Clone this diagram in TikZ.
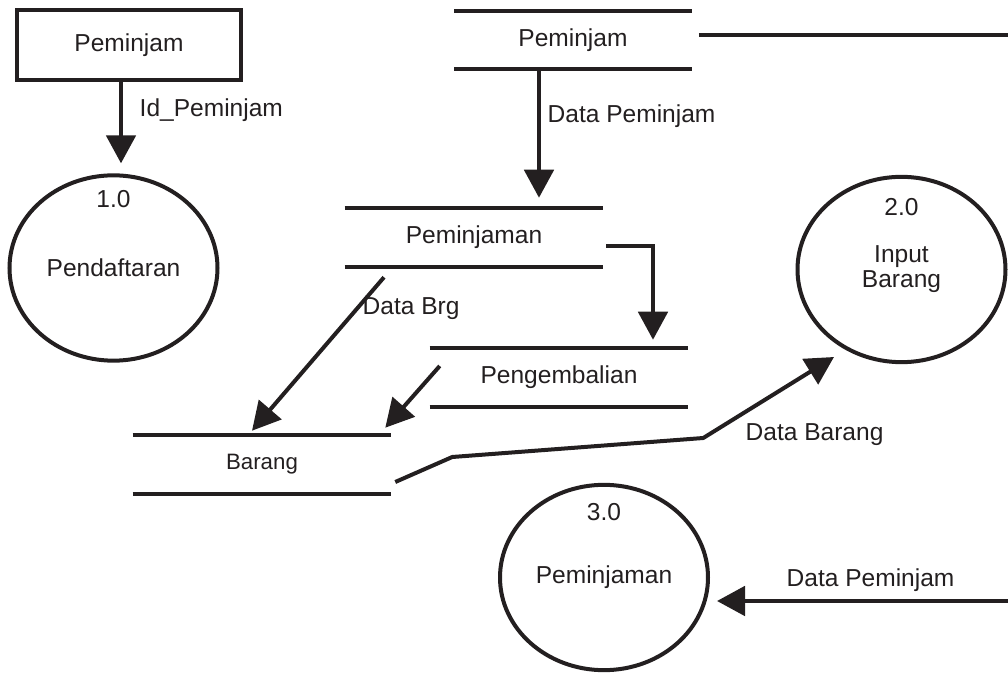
\documentclass[tikz,border=0pt]{standalone}
\usepackage{fontspec}
\setmainfont{Liberation Sans}
\usetikzlibrary{positioning,calc,shapes.geometric,arrows.meta}
\definecolor{dfdink}{RGB}{35,31,32}

\begin{document}
\begin{tikzpicture}[x=0.75pt, y=-0.75pt,
    every node/.style={text=dfdink, font=\fontsize{18.4}{18.75}\selectfont},
    entity/.style={draw=dfdink, line width=3pt, rectangle, minimum width=168pt, minimum height=52.5pt},
    proc/.style={draw=dfdink, line width=3pt, ellipse, minimum width=156pt, minimum height=139pt, inner sep=0pt, align=center},
    store/.style={minimum width=193.5pt, minimum height=44.25pt, inner sep=0pt},
    flow/.style={draw=dfdink, line width=3pt, -{Triangle[length=21pt, width=22pt]}},
    line/.style={draw=dfdink, line width=3pt}]
    \useasboundingbox (0,0) rectangle (1008,673);

    % External entity
    \node[entity] (pmj) at (129,45) {Peminjam};

    % Processes
    \node[proc] (p1) at (113.5,268) {Pendaftaran};
    \node[proc] (p2) at (901.5,269.5) {Input\\Barang};
    \node[proc] (p3) at (604,577.5) {Peminjaman};
    \node (n1) at ($(p1.center)+(0,-69)$) {1.0};
    \node (n2) at ($(p2.center)+(0,-62)$) {2.0};
    \node (n3) at ($(p3.center)+(0,-65)$) {3.0};

    % Data stores
    \node[store, minimum width=177.75pt, minimum height=43.5pt] (ds1) at (573,40) {Peminjam};
    \node[store] (ds2) at (474,237.5) {Peminjaman};
    \node[store] (ds3) at (559,377.5) {Pengembalian};
    \node[store, font=\fontsize{16.7}{18}\selectfont] (ds4) at (262,464.5) {Barang};
    \foreach \s in {ds1,ds2,ds3,ds4}{
        \draw[line] (\s.north west) -- (\s.north east);
        \draw[line] (\s.south west) -- (\s.south east);
    }

    % Flows
    \coordinate (e1) at (1008,35);
    \coordinate (e2) at (1008,601);
    \draw[flow] ($(pmj.south)+(-8,0)$) -- ($(p1.north)+(7.5,-10)$);
    \draw[flow] ($(ds1.south)+(-34,0)$) -- ($(ds2.north)+(65,-10)$);
    \draw[line] ($(ds1.east)+(7,-5)$) -- (e1);
    \draw[flow] ($(ds2.east)+(3,8.5)$) -| ($(ds3.north)+(94,-8)$);
    \draw[flow] ($(ds2.south)+(-90,10)$) -- ($(ds4.north)+(-10,-4)$);
    \draw[flow] ($(ds3.west)+(10,-11.5)$) -- ($(ds4.north east)+(-6,-7)$);
    \draw[flow] ($(ds4.east)+(4,17.5)$) -- ++(57,-25) -- ++(251,-19) -- ($(p2.center)+(-67.5,87.5)$);
    \draw[flow] (e2) -- ($(p3.center)+(113,23.5)$);

    % Labels
    \node[anchor=west] (l1) at (135,110.5) {Id\_Peminjam};
    \node[anchor=west] (l2) at (543,116.5) {Data Peminjam};
    \node[anchor=west] (l3) at (358,309) {Data Brg};
    \node[anchor=west] (l4) at (741,435) {Data Barang};
    \node[anchor=west] (l5) at (782,580) {Data Peminjam};
\end{tikzpicture}
\end{document}
